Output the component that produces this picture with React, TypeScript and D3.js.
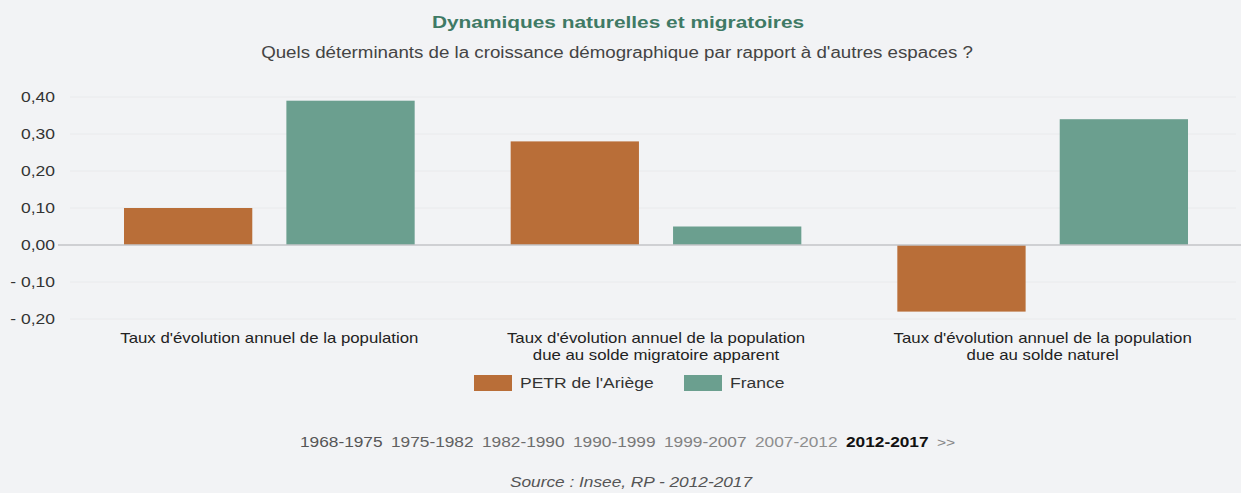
import React, { useEffect } from "react";
import * as d3 from "d3";

const categories = [
  ["Taux d'évolution annuel de la population"],
  ["Taux d'évolution annuel de la population", "due au solde migratoire apparent"],
  ["Taux d'évolution annuel de la population", "due au solde naturel"],
];
const seriesNames = ["PETR de l'Ariège", "France"];
const petrValues = [0.1, 0.28, -0.18];
const franceValues = [0.39, 0.05, 0.34];
const yTicks = [0.4, 0.3, 0.2, 0.1, 0, -0.1, -0.2];
const periods = ["1968-1975", "1975-1982", "1982-1990", "1990-1999", "1999-2007", "2007-2012", "2012-2017"];
const activePeriod = "2012-2017";

const W = 1241;
const H = 493;
const colors = ["#b96e38", "#6b9f8f"];
const font = "Liberation Sans, Arial, sans-serif";
const SX = 1.2;

function T(props: any) {
  const { x, y, children, ...rest } = props;
  return (
    <text transform={`translate(${x},${y}) scale(${SX},1)`} {...rest}>
      {children}
    </text>
  );
}

export default function App() {
  useEffect(() => {
    document.body.style.margin = "0";
    document.body.style.overflow = "hidden";
  }, []);
  const x = d3.scaleBand<number>().domain([0, 1, 2]).range([76, 1236]).paddingInner(0).paddingOuter(0);
  const inner = d3.scaleBand<number>().domain([0, 1]).range([48, x.bandwidth() - 48]).paddingInner(0.21);
  const y = d3.scaleLinear().domain([-0.2, 0.4]).range([319, 97]);
  const fmt = (v: number) => {
    const s = Math.abs(v).toFixed(2).replace(".", ",");
    return v < 0 ? "- " + s : s;
  };
  const series = [petrValues, franceValues];
  return (
    <svg
      width={W}
      height={H}
      style={{ display: "block", position: "absolute", left: 0, top: 0, background: "#f2f3f5" }}
      fontFamily={font}
    >
      <rect width={W} height={H} fill="#f2f3f5" />
      <T x={618} y={28} textAnchor="middle" fontSize={17.4} fontWeight="bold" fill="#3f7a65">
        Dynamiques naturelles et migratoires
      </T>
      <T x={617} y={58} textAnchor="middle" fontSize={15.6} fill="#444">
        Quels déterminants de la croissance démographique par rapport à d'autres espaces ?
      </T>
      {yTicks.map((t) => (
        <g key={t}>
          {t !== 0 && <line x1={70} x2={1236} y1={y(t)} y2={y(t)} stroke="#e9eaec" strokeWidth={1} />}
          <T x={55} y={y(t) + 5} textAnchor="end" fontSize={14.6} fill="#333">
            {fmt(t)}
          </T>
        </g>
      ))}
      {series.map((vals, si) =>
        vals.map((v, ci) => {
          const x0 = (x(ci) as number) + (inner(si) as number);
          const y0 = Math.min(y(v), y(0));
          const h = Math.abs(y(v) - y(0));
          return <rect key={si + "-" + ci} x={x0} y={y0} width={inner.bandwidth()} height={h} fill={colors[si]} />;
        })
      )}
      <line x1={58} x2={W} y1={y(0)} y2={y(0)} stroke="#c3c5c7" strokeWidth={1.5} />
      {categories.map((lines, ci) =>
        lines.map((l, li) => (
          <T
            key={ci + "-" + li}
            x={(x(ci) as number) + x.bandwidth() / 2}
            y={343 + li * 17}
            textAnchor="middle"
            fontSize={14}
            fill="#222"
          >
            {l}
          </T>
        ))
      )}
      {seriesNames.map((n, i) => {
        const lx = [474, 684][i];
        return (
          <g key={n}>
            <rect x={lx} y={375} width={38} height={16} fill={colors[i]} />
            <T x={lx + 46} y={388} fontSize={14.6} fill="#333">
              {n}
            </T>
          </g>
        );
      })}
      {periods.map((p, i) => (
        <T
          key={p}
          x={300 + i * 91}
          y={447}
          fontSize={14.4}
          fontWeight={p === activePeriod ? "bold" : "normal"}
          fill={p === activePeriod ? "#111" : d3.interpolateRgb("#555", "#999")(i / 6)}
        >
          {p}
        </T>
      ))}
      <T x={937} y={447} fontSize={13} fill="#888">
        {">>"}
      </T>
      <T x={631} y={487} textAnchor="middle" fontSize={14.4} fontStyle="italic" fill="#555">
        Source : Insee, RP - 2012-2017
      </T>
    </svg>
  );
}
